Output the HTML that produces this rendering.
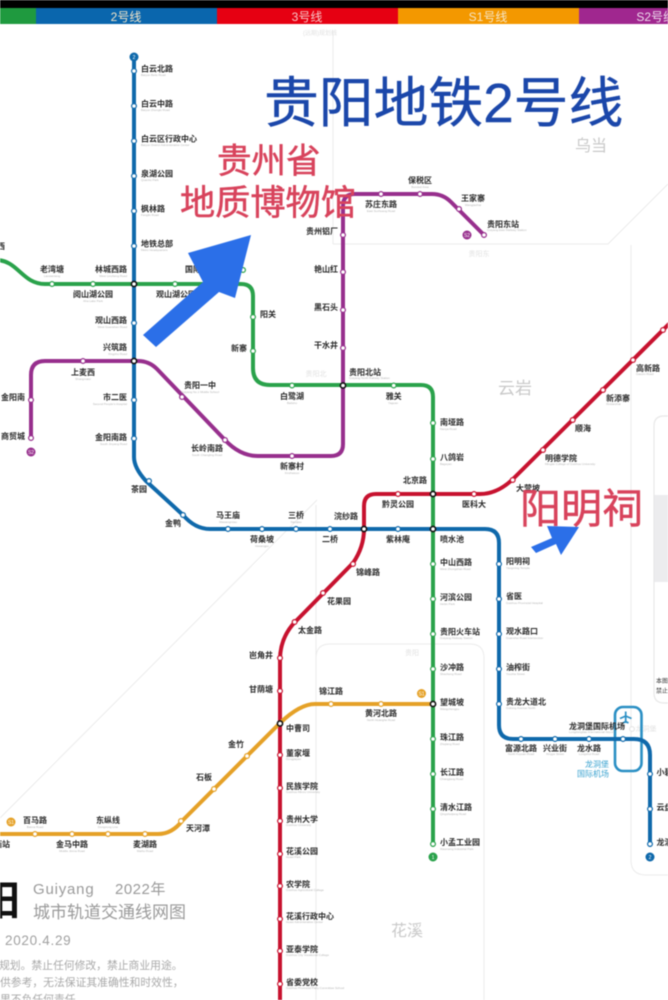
<!DOCTYPE html>
<html lang="zh">
<head>
<meta charset="utf-8">
<title>贵阳地铁2号线</title>
<style>
html,body{margin:0;padding:0;background:#fff;}
body{width:668px;height:1000px;overflow:hidden;}
svg{display:block;filter:blur(0.5px);}
text{font-family:"Liberation Sans","Noto Sans CJK SC",sans-serif;}
.s text{font-size:8px;font-weight:700;fill:#2a2a2a;}
.e text{font-size:3px;fill:#b5b5b5;font-family:"Liberation Sans",sans-serif;}
.m{text-anchor:middle;}
.r{text-anchor:end;}
.ln{fill:none;stroke-width:4;stroke-linecap:round;stroke-linejoin:round;}
.st circle{fill:#fff;stroke-width:1.2;r:2.4px;}
.x circle{fill:#fff;stroke:#111;stroke-width:1.6;r:2.6px;}
.gl{fill:none;stroke:#ebebeb;stroke-width:1;}
.gt{font-size:16px;fill:#c9c9c9;text-anchor:middle;}
.ft{font-size:7px;fill:#e2e2e2;text-anchor:middle;}
.bar{font-size:12px;fill:#f5e6c8;text-anchor:middle;}
.red{font-family:"Liberation Sans","Noto Sans CJK SC",sans-serif;fill:#d8435c;stroke:#d8435c;stroke-width:.5;}
.num{font-size:5px;fill:#fff;text-anchor:middle;}
.note{font-size:10.8px;fill:#a9a9a9;}
</style>
</head>
<body>
<svg width="668" height="1000" viewBox="0 0 668 1000" xmlns="http://www.w3.org/2000/svg">
<rect width="668" height="1000" fill="#fff"/>
<!-- header -->
<rect width="668" height="8" fill="#000"/>
<rect x="0" y="8" width="36" height="16" fill="#1f9a3f"/>
<rect x="36" y="8" width="181" height="16" fill="#0a66ad"/>
<rect x="217" y="8" width="181" height="16" fill="#e60012"/>
<rect x="398" y="8" width="181" height="16" fill="#f39800"/>
<rect x="579" y="8" width="89" height="16" fill="#a0278f"/>
<text class="bar" x="126" y="21">2号线</text>
<text class="bar" x="307" y="21" style="fill:#f7c9c9">3号线</text>
<text class="bar" x="488" y="21">S1号线</text>
<text class="bar" x="668" y="21" style="fill:#eeddee;text-anchor:end" dx="7">S2号线</text>

<!-- boundaries -->
<path class="gl" d="M333 30V244M333 244H608L668 184"/>
<path class="gl" d="M631 245V860Q631 875 646 875H668"/>
<path class="gl" d="M317 500L0 818"/>
<path class="gl" d="M316 505V1000"/>
<path class="gl" d="M316 658Q316 644 330 644H470Q484 644 484 658V1000"/>
<rect x="654" y="495" width="20" height="87" fill="#ececee"/>
<path d="M668 416H664Q654 416 654 426V693Q654 703 664 703H668" fill="none" stroke="#e8e8e8" stroke-width="1.2"/>
<text class="gt" x="591" y="151">乌当</text>
<text class="gt" x="515" y="394" style="font-size:17px">云岩</text>
<text class="gt" x="407" y="936">花溪</text>
<text class="ft" x="479" y="256">贵阳东</text>
<text class="ft" x="412" y="655">贵阳</text>
<text class="ft" x="316" y="376">贵阳北</text>
<text class="ft" x="646" y="731">龙洞堡</text>
<text class="ft" x="320" y="35" style="font-size:6px">(远期)规划线</text>

<!-- airport loop -->
<rect x="615" y="707" width="26.5" height="64" rx="8" fill="none" stroke="#2a8fc4" stroke-width="2.6"/>
<path d="M625.7 711.500V723M620 718.500L625.700 716L631.500 718.500M623 723L625.700 721.500L628.500 723" fill="none" stroke="#2a8fc4" stroke-width="1.7"/>
<circle cx="632" cy="729" r="2.4" fill="#fff" stroke="#e2e2e2"/>

<!-- lines -->
<path class="ln" stroke="#2aa24b" d="M-4 260C18 260 22 284 45 284H241Q253 284 253 296V368Q253 385 270 385H421Q433 385 433 397V845"/>
<path class="ln" stroke="#972f8d" d="M31 438V375Q31 361 45 361H138Q149 361 157 369L225 440Q240 456 258 456H331Q343 456 343 444V206Q343 194 355 194H432Q443 194 451 202L484 235"/>
<path class="ln" stroke="#c7122f" d="M672 321L514 478Q498 494 480 494H376Q364 494 364 506V529Q364 547 353 563L296 621Q280 637 280 660V1004"/>
<path class="ln" stroke="#e5a127" d="M-4 834H158Q172 834 182 821L280 723Q300 704 315 704H433"/>
<path class="ln" stroke="#0f69ab" d="M134 57V457Q134 468 146 481L183 515Q195 529 210 529H485Q499 529 499 543V725Q499 739 513 739H634Q650 739 650 755V845"/>

<!-- terminal dots -->
<circle cx="134" cy="57" r="4.500" fill="#0f69ab"/><text class="num" x="134" y="59">2</text>
<circle cx="650" cy="857" r="4.500" fill="#0f69ab"/><text class="num" x="650" y="859">2</text>
<circle cx="433" cy="857" r="4.500" fill="#2aa24b"/><text class="num" x="433" y="859">1</text>
<circle cx="31" cy="452" r="4.500" fill="#972f8d"/><text class="num" x="31" y="454">S2</text>
<circle cx="467" cy="235" r="4.500" fill="#972f8d"/><text class="num" x="467" y="237">S2</text>
<circle cx="11" cy="822" r="4.500" fill="#e5a127"/><text class="num" x="11" y="824">S1</text>
<circle cx="421.500" cy="693.500" r="4.500" fill="#e5a127"/><text class="num" x="421.500" y="695.500">S1</text>

<!-- stations -->
<g class="st" stroke="#0f69ab">
<circle cx="134" cy="71"/><circle cx="134" cy="106"/><circle cx="134" cy="141"/><circle cx="134" cy="176"/><circle cx="134" cy="211"/><circle cx="134" cy="246"/><circle cx="134" cy="323"/><circle cx="134" cy="400"/><circle cx="134" cy="438.500"/><circle cx="149" cy="481"/><circle cx="183" cy="515"/><circle cx="228" cy="529"/><circle cx="262" cy="529"/><circle cx="296" cy="529"/><circle cx="330" cy="529"/><circle cx="398" cy="529"/><circle cx="499" cy="564"/><circle cx="499" cy="599"/><circle cx="499" cy="634"/><circle cx="499" cy="669"/><circle cx="499" cy="704"/><circle cx="521" cy="739"/><circle cx="555" cy="739"/><circle cx="589" cy="739"/><circle cx="623" cy="739"/><circle cx="650" cy="774"/><circle cx="650" cy="809"/><circle cx="650" cy="844"/>
</g>
<g class="st" stroke="#2aa24b">
<circle cx="52" cy="284"/><circle cx="93" cy="284"/><circle cx="175" cy="284"/><circle cx="217" cy="284"/><circle cx="243" cy="270"/><circle cx="253" cy="317"/><circle cx="253" cy="351"/><circle cx="292" cy="385.500"/><circle cx="393.700" cy="385.500"/><circle cx="433" cy="423"/><circle cx="433" cy="459"/><circle cx="433" cy="564"/><circle cx="433" cy="599"/><circle cx="433" cy="634"/><circle cx="433" cy="669"/><circle cx="433" cy="739"/><circle cx="433" cy="774"/><circle cx="433" cy="809"/><circle cx="433" cy="844"/>
</g>
<g class="st" stroke="#972f8d">
<circle cx="31" cy="438"/><circle cx="31" cy="400"/><circle cx="83" cy="361"/><circle cx="182" cy="397"/><circle cx="225" cy="440"/><circle cx="292" cy="456"/><circle cx="343" cy="348"/><circle cx="343" cy="310"/><circle cx="343" cy="272"/><circle cx="343" cy="235"/><circle cx="381" cy="194"/><circle cx="420" cy="194"/><circle cx="459" cy="209"/><circle cx="484" cy="235"/>
</g>
<g class="st" stroke="#c7122f">
<circle cx="663" cy="330"/><circle cx="633" cy="360"/><circle cx="603" cy="390"/><circle cx="572.700" cy="420"/><circle cx="543" cy="450"/><circle cx="512.700" cy="480"/><circle cx="474" cy="494"/><circle cx="398" cy="494"/><circle cx="353" cy="564"/><circle cx="323" cy="593"/><circle cx="294.600" cy="622"/><circle cx="280" cy="658"/><circle cx="280" cy="691"/><circle cx="280" cy="755"/><circle cx="280" cy="788"/><circle cx="280" cy="821"/><circle cx="280" cy="854"/><circle cx="280" cy="886"/><circle cx="280" cy="919"/><circle cx="280" cy="951"/><circle cx="280" cy="984"/>
</g>
<g class="st" stroke="#e5a127">
<circle cx="35" cy="834"/><circle cx="72" cy="834"/><circle cx="108" cy="834"/><circle cx="145" cy="834"/><circle cx="181" cy="821"/><circle cx="214" cy="789"/><circle cx="247" cy="756"/><circle cx="331" cy="704"/><circle cx="381" cy="704"/>
</g>
<g class="x">
<circle cx="134" cy="284"/><circle cx="134" cy="361"/><circle cx="343" cy="385.500"/><circle cx="433" cy="494"/><circle cx="433" cy="529"/><circle cx="364" cy="529"/><circle cx="433" cy="704"/><circle cx="280" cy="723.500"/>
</g>

<!-- station labels -->
<g class="s">
<text x="141" y="71.500">白云北路</text><text x="141" y="106.500">白云中路</text><text x="141" y="141.500">白云区行政中心</text><text x="141" y="176.500">泉湖公园</text><text x="141" y="211.500">枫林路</text><text x="141" y="246.500">地铁总部</text>
<text x="-3" y="249">西</text>
<text class="r" x="127" y="272">林城西路</text><text class="m" x="93" y="297">阅山湖公园</text><text class="m" x="52" y="272">老湾塘</text>
<text x="185" y="272">国际</text><text x="156" y="297">观山湖公园</text>
<text class="r" x="127" y="323">观山西路</text><text class="r" x="127" y="350">兴筑路</text><text class="r" x="127" y="400">市二医</text><text class="r" x="127" y="440">金阳南路</text>
<text class="m" x="139" y="492">茶园</text><text class="m" x="173" y="526">金鸭</text><text class="m" x="228" y="518">马王庙</text><text class="m" x="262" y="542">荷桑坡</text><text class="m" x="296" y="518">三桥</text><text class="m" x="330" y="542">二桥</text><text class="m" x="346" y="519">浣纱路</text><text class="m" x="398" y="542">紫林庵</text><text x="440" y="542">喷水池</text>
<text class="m" x="398" y="507">黔灵公园</text><text class="m" x="474" y="507">医科大</text><text class="m" x="415" y="483">北京路</text><text x="516" y="491">大营坡</text>
<text x="506" y="564">阳明祠</text><text x="506" y="599">省医</text><text x="506" y="634">观水路口</text><text x="506" y="670">油榨街</text><text x="506" y="704.500">贵龙大道北</text>
<text x="569" y="729">龙洞堡国际机场</text><text class="m" x="521" y="751">富源北路</text><text class="m" x="555" y="751">兴业街</text><text class="m" x="589" y="751">龙水路</text>
<text x="656.500" y="775">小碧</text><text x="656.500" y="810">云盘</text><text x="656.500" y="845">龙洞堡</text>
<text x="260" y="317">阳关</text><text class="r" x="247" y="351">新寨</text><text class="m" x="292" y="399">白鹭湖</text><text class="m" x="393.700" y="399">雅关</text><text x="349" y="375">贵阳北站</text>
<text x="440" y="425">南垭路</text><text x="440" y="460">八鸽岩</text><text x="440" y="565">中山西路</text><text x="440" y="600">河滨公园</text><text x="440" y="634.500">贵阳火车站</text><text x="440" y="670">沙冲路</text><text x="440" y="705">望城坡</text><text x="440" y="740">珠江路</text><text x="440" y="775">长江路</text><text x="440" y="810">清水江路</text><text x="440" y="845">小孟工业园</text>
<text class="m" x="420" y="183">保税区</text><text class="m" x="381" y="207">苏庄东路</text><text class="m" x="473" y="201">王家寨</text><text x="487" y="227">贵阳东站</text><text x="306" y="234">贵州铝厂</text><text x="314" y="272">艳山红</text><text x="314" y="310">黑石头</text><text x="314" y="348">干水井</text>
<text class="m" x="83" y="375">上麦西</text><text x="1" y="400">金阳南</text><text x="1" y="439">商贸城</text><text class="m" x="200" y="388">贵阳一中</text><text class="m" x="207" y="451">长岭南路</text><text class="m" x="292" y="469">新寨村</text>
<text x="636" y="371">高新路</text><text x="606" y="401">新添寨</text><text x="575" y="431">顺海</text><text x="545" y="461">明德学院</text>
<text x="356" y="575">锦峰路</text><text x="327" y="604">花果园</text><text x="298" y="633">太金路</text><text class="r" x="273" y="658">岜角井</text><text class="r" x="273" y="692">甘荫塘</text>
<text x="286" y="731">中曹司</text><text x="286" y="756">董家堰</text><text x="286" y="789">民族学院</text><text x="286" y="822">贵州大学</text><text x="286" y="854">花溪公园</text><text x="286" y="887">农学院</text><text x="286" y="919">花溪行政中心</text><text x="286" y="952">亚泰学院</text><text x="286" y="985">省委党校</text>
<text x="319" y="694">锦江路</text><text class="m" x="381" y="716">黄河北路</text><text class="m" x="236" y="747">金竹</text><text class="m" x="204" y="780">石板</text><text x="186" y="831">天河潭</text>
<text class="m" x="145" y="847">麦湖路</text><text class="m" x="108" y="823">东纵线</text><text class="m" x="72" y="847">金马中路</text><text class="m" x="35" y="823">百马路</text><text class="r" x="10" y="847">西站</text>
</g>
<g class="e">
<text x="141" y="76">Baiyun Beilu Road</text><text x="141" y="111">Baiyun Zhonglu Road</text><text x="141" y="146">Baiyun District Administrative Center</text><text x="141" y="181">Quanhu Park</text><text x="141" y="216">Fenglin Road</text><text x="141" y="251">Metro Headquarters</text>
<text class="r" x="127" y="277">West Lincheng Road</text><text class="m" x="93" y="302">Aha Lake Park</text><text class="m" x="52" y="277">Laowantang</text>
<text class="r" x="127" y="328">West Guanshan Road</text><text class="r" x="127" y="355">Xingzhu Road</text><text class="r" x="127" y="405">Second People's Hospital</text><text class="r" x="127" y="445">South Jinyang Road</text>
<text class="m" x="228" y="523">Mawangmiao</text><text class="m" x="262" y="547">Hesangpo</text><text class="m" x="296" y="523">Sanqiao</text>
<text x="506" y="569">Yangming Temple</text><text x="506" y="604">Guizhou Provincial Hospital</text><text x="506" y="639">Guanshui Road Intersection</text><text x="506" y="675">Youzha Street</text><text x="506" y="709">Guilong Avenue North</text>
<text x="569" y="733">Longdongbao International Airport</text><text class="m" x="521" y="755">North Fuyuan Road</text><text class="m" x="555" y="755">Xingye Street</text><text class="m" x="589" y="755">Longshui Road</text>
<text x="440" y="430">Nanya Road</text><text x="440" y="465">Bageyan</text><text x="440" y="570">West Zhongshan Road</text><text x="440" y="605">Hebin Park</text><text x="440" y="639">Guiyang Railway Station</text><text x="440" y="675">Shachong Road</text><text x="440" y="710">Wangchengpo</text><text x="440" y="745">Zhujiang Road</text><text x="440" y="780">Changjiang Road</text><text x="440" y="815">Qingshuijiang Road</text><text x="440" y="850">Xiaomeng Industrial Park</text>
<text x="349" y="379">Guiyang North Railway Station</text><text class="m" x="292" y="404">Bailuhu</text><text class="m" x="393" y="404">Yaguan</text>
<text x="487" y="231">Guiyang East Railway Station</text><text class="m" x="381" y="212">East Suzhuang Road</text><text class="m" x="420" y="188">Bonded Area</text><text class="m" x="473" y="206">Wangjiazhai</text>
<text class="m" x="200" y="393">Guiyang No.1 Middle School</text><text class="m" x="207" y="456">South Changling Road</text><text class="m" x="292" y="474">Xinzhaicun</text><text class="m" x="83" y="380">Shangmaixi</text>
<text x="636" y="375">Gaoxin Road</text><text x="606" y="405">Xintianzhai</text><text x="545" y="465">Mingde College of Guizhou University</text>
<text x="286" y="760">Dongjiayan</text><text x="286" y="793">Guizhou Minzu University</text><text x="286" y="826">Guizhou University</text><text x="286" y="858">Huaxi Park</text><text x="286" y="891">Guizhou Agricultural College</text><text x="286" y="923">Huaxi Administrative Center</text><text x="286" y="956">Guizhou City Vocational College</text><text x="286" y="989">Guizhou Provincial Party Committee School</text>
<text class="m" x="381" y="721">North Huanghe Road</text><text class="m" x="145" y="852">Maihu Road</text><text class="m" x="108" y="828">Dongzong Line</text><text class="m" x="72" y="852">Middle Jinma Road</text><text class="m" x="35" y="828">Baima Road</text>
</g>
<text x="609" y="767" class="r" style="font-size:8px;fill:#3ba3d0">龙洞堡</text>
<text x="609" y="776.500" class="r" style="font-size:8px;fill:#3ba3d0">国际机场</text>
<text x="656" y="683" style="font-size:6px;fill:#333">本图</text>
<text x="656" y="693" style="font-size:6px;fill:#333">禁止</text>

<!-- bottom-left title -->
<text x="20" y="915" class="r" style="font-size:41px;font-weight:700;fill:#111">贵阳</text>
<text x="33" y="894" style="font-size:15px;fill:#9a9a9a;letter-spacing:.8px">Guiyang</text>
<text x="115" y="894" style="font-size:15px;fill:#9a9a9a;letter-spacing:.5px">2022年</text>
<text x="33" y="918" style="font-size:17px;fill:#9a9a9a">城市轨道交通线网图</text>
<text x="5" y="945" style="font-size:13.500px;fill:#a0a0a0;letter-spacing:.7px">2020.4.29</text>
<text x="-1" y="969" class="note">规划。禁止任何修改，禁止商业用途。</text>
<text x="0" y="986" class="note">供参考，无法保证其准确性和时效性，</text>
<text x="0" y="1003" class="note">果不负任何责任。</text>

<!-- overlays -->
<text x="264" y="122" style="font-size:54.800px;fill:#1b47aa;stroke:#1b47aa;stroke-width:.4">贵阳地铁2号线</text>
<text x="217" y="173" class="red" style="font-size:34.500px">贵州省</text>
<text x="180" y="215" class="red" style="font-size:35.200px">地质博物馆</text>
<text x="520" y="523" class="red" style="font-size:41px">阳明祠</text>
<polygon points="143,335 203,282 188,253 251,235 235,298 219,292 156,347" fill="#2b6fe8"/>
<polygon points="531,547 552,538 547,526 579,527 561,555 556,544 536,553" fill="#2b6fe8"/>
</svg>
</body>
</html>
